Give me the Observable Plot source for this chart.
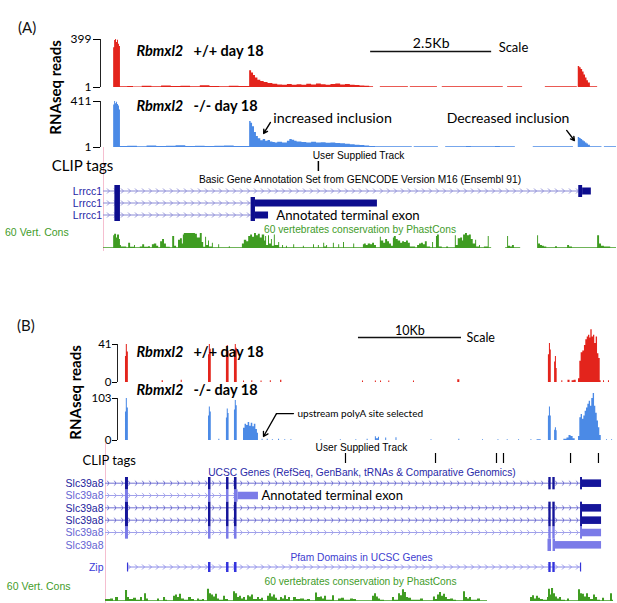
<!DOCTYPE html>
<html><head><meta charset="utf-8">
<script src="https://cdn.jsdelivr.net/npm/d3@7"></script>
<script src="https://cdn.jsdelivr.net/npm/@observablehq/plot@0.6"></script>
<style>
body{margin:0;background:#fff;}
#fig{position:relative;width:617px;height:603px;overflow:hidden;}
#fig svg{position:absolute;left:0;overflow:visible;}
.panel{position:absolute;font-family:Lato,'Open Sans',sans-serif;font-size:15px;color:#111;}
</style></head><body><div id="fig"><div class="panel" style="left:18px;top:18px">(A)</div><div class="panel" style="left:17px;top:316px">(B)</div></div>
<script>
// ---------------- DATA ----------------
// scale bars (kb)
const kbScaleA = [{start: 5.52, kb: 2.5}];
const kbScaleB = [{start: 24.56, kb: 10}];
// axis tick labels
const yTicksRedA = [1, 399], yTicksBlueA = [1, 411];
const yTicksRedB = [0, 41], yTicksBlueB = [0, 103];
// RNAseq coverage, panel A: [position kb, reads]
const covRedA = [[0.19,1],[0.21,330],[0.23,390],[0.25,399],[0.27,375],[0.29,392],[0.31,360],[0.33,340],[0.35,8],[0.5,10],[0.62,6],[0.8,12],[1.0,8],[1.2,14],[1.4,9],[1.6,12],[1.8,8],[2.0,15],[2.2,10],[2.4,7],[2.6,12],[2.8,9],[3.02,140],[3.06,122],[3.10,100],[3.14,80],[3.19,62],[3.25,50],[3.32,42],[3.4,34],[3.5,28],[3.6,22],[3.7,20],[3.8,25],[3.9,19],[4.0,23],[4.1,20],[4.2,27],[4.3,22],[4.4,29],[4.5,24],[4.6,20],[4.7,25],[4.8,31],[4.9,22],[5.0,26],[5.1,20],[5.2,17],[5.3,14],[5.4,11],[5.5,8],[5.58,1],[5.72,7],[6.30,1],[6.34,7],[6.90,1],[7.00,7],[8.26,1],[8.35,7],[8.66,1],[9.13,7],[9.79,1],[9.81,175],[9.84,165],[9.87,150],[9.90,130],[9.93,105],[9.96,80],[9.99,58],[10.02,38],[10.06,8],[10.21,1]];
const covBlueA = [[0.19,1],[0.21,380],[0.23,411],[0.25,392],[0.27,405],[0.29,385],[0.31,372],[0.33,335],[0.35,10],[0.5,12],[0.7,8],[0.9,14],[1.1,10],[1.3,12],[1.5,16],[1.7,10],[1.9,13],[2.1,9],[2.3,12],[2.5,14],[2.7,10],[2.9,11],[3.02,232],[3.05,218],[3.08,185],[3.12,135],[3.16,98],[3.20,80],[3.25,62],[3.30,72],[3.35,56],[3.40,64],[3.45,50],[3.50,45],[3.55,40],[3.60,48],[3.70,42],[3.80,56],[3.85,72],[3.90,66],[3.95,56],[4.0,50],[4.1,45],[4.2,42],[4.3,48],[4.4,40],[4.5,44],[4.6,38],[4.7,42],[4.8,36],[4.9,34],[5.0,30],[5.1,26],[5.2,22],[5.3,18],[5.4,14],[5.5,10],[5.62,7],[6.38,1],[6.42,7],[6.92,1],[7.07,7],[7.5,10],[7.6,7],[8.1,9],[8.2,7],[8.51,1],[8.88,7],[9.71,1],[9.81,90],[9.84,82],[9.87,72],[9.90,62],[9.93,52],[9.96,42],[9.99,32],[10.02,22],[10.06,7],[10.3,1],[10.35,7],[10.6,7]];
// RNAseq coverage, panel B
const covRedB = [[1.85,0],[1.94,28],[2.02,41],[2.12,33],[2.22,0],[5.50,2],[5.62,0],[7.35,2.5],[7.45,0],[9.95,0],[10.0,30],[10.08,41],[10.18,36],[10.27,0],[11.70,0],[11.74,30],[11.82,40],[11.92,34],[12.0,0],[12.48,0],[12.52,33],[12.60,41],[12.70,37],[12.79,0],[13.4,1.5],[13.5,0],[14.2,2],[14.3,0],[15.1,1.5],[15.2,0],[16.0,2],[16.1,0],[17.0,2.5],[17.12,0],[24.95,1.5],[25.05,0],[26.2,1.5],[26.3,0],[26.7,1.5],[26.8,0],[27.5,1.5],[27.6,0],[29.9,1.5],[30.0,0],[34.2,3],[34.4,0],[42.95,0],[43.0,30],[43.1,42],[43.2,35],[43.28,0],[43.55,0],[43.6,22],[43.68,28],[43.78,15],[43.85,0],[44.3,2],[44.4,0],[44.9,2.5],[45.1,0],[45.3,2],[45.5,2.5],[45.7,0],[45.92,4],[46.05,23],[46.18,32],[46.34,34],[46.5,40],[46.63,46],[46.77,49],[46.89,51],[47.02,48],[47.12,57],[47.25,49],[47.38,51],[47.5,42],[47.64,49],[47.77,31],[47.9,26],[48.03,2],[48.12,0],[48.35,2],[48.45,0],[48.83,2],[48.93,0]];
const covBlueB = [[1.85,0],[1.94,70],[2.02,103],[2.12,80],[2.22,0],[9.95,0],[10.0,60],[10.08,82],[10.18,70],[10.27,0],[11.0,3],[11.1,0],[11.70,0],[11.74,55],[11.82,77],[11.92,66],[12.0,0],[12.48,0],[12.52,75],[12.60,98],[12.70,85],[12.79,0],[13.40,30],[13.55,40],[13.70,37],[13.85,44],[14.0,35],[14.15,42],[14.30,34],[14.45,40],[14.60,27],[14.75,18],[14.85,0],[15.2,3],[15.3,0],[15.7,3],[15.8,0],[16.2,2],[16.3,0],[16.8,3],[16.9,0],[17.4,2],[17.5,0],[18.0,2],[18.1,0],[20.9,2],[21.0,0],[22.8,2],[22.9,0],[24.3,2],[24.4,0],[25.4,3],[25.5,0],[26.2,9],[26.3,4],[26.5,8],[26.6,0],[27.2,6],[27.3,0],[28.2,7],[28.3,0],[31.6,2],[31.7,0],[34.3,3],[34.4,0],[36.6,2],[36.7,0],[38.1,2],[38.2,0],[39.0,2],[39.1,0],[40.1,2],[40.2,0],[41.3,2],[41.4,0],[41.9,2],[42.2,2],[42.3,0],[42.95,0],[43.0,60],[43.1,82],[43.2,60],[43.28,0],[43.55,0],[43.6,25],[43.68,31],[43.78,24],[43.85,0],[44.5,3],[44.8,6],[45.0,12],[45.2,10],[45.4,4],[45.6,0],[45.92,10],[46.05,56],[46.18,64],[46.31,52],[46.44,60],[46.57,72],[46.70,80],[46.83,89],[46.96,96],[47.09,84],[47.21,103],[47.35,115],[47.48,84],[47.60,67],[47.74,48],[47.86,31],[47.99,12],[48.13,0],[48.64,2],[48.74,0],[49.13,2],[49.23,0]];
// CLIP tags (kb)
const clipTagsA = [4.44];
const clipTagsB = [23.3, 32.04, 37.96, 38.64, 45.15, 47.86];
// gene models, panel A: rows, intron spans [start,end,row], exons [start,end,row,kind c=thick u=thin]
const geneRowsA = ["Lrrcc1", "Lrrcc1", "Lrrcc1"];
const intronsA = [[0,9.82,1],[0,3.05,2],[0,3.05,3]];
const exonsA = [[0.235,0.35,1,"c"],[0.235,0.35,2,"c"],[0.235,0.35,3,"c"],[9.82,9.90,1,"c"],[9.90,10.08,1,"u"],[3.05,3.14,2,"c"],[3.14,5.66,2,"u"],[3.05,3.14,3,"c"],[3.14,3.41,3,"u"]];
// gene models, panel B
const geneRowsB = [["Slc39a8","dark"],["Slc39a8","light"],["Slc39a8","dark"],["Slc39a8","dark"],["Slc39a8","light"],["Slc39a8","light"]];
const intronsB = [[0,46.12,1],[0,12.62,2],[0,46.12,3],[0,46.12,4],[0,46.12,5]];
const exonsFullB = [[1.94,2.23,"c"],[10.0,10.24,"c"],[11.75,11.99,"c"],[12.52,12.77,"c"],[43.04,43.27,"c"],[43.43,43.66,"c"],[46.12,46.31,"c"],[46.31,48.16,"u"]];
const exonsShortB = [[1.94,2.23,"c"],[10.0,10.24,"c"],[11.75,11.99,"c"],[12.52,12.87,"c"],[12.87,14.85,"u"]];
const exonsTailB = [[42.96,43.30,"c"],[43.45,43.69,"c"],[43.69,48.16,"u"]];
const exonSetByRowB = [exonsFullB, exonsShortB, exonsFullB, exonsFullB, exonsFullB, exonsTailB];
// Pfam Zip domain
const zipEnds = [2.14, 46.12];
const zipExons = [[10.0,10.24],[11.75,11.99],[12.52,12.77],[43.04,43.27],[43.43,43.66]];
// 60 vertebrate conservation [kb, score 0..1]
const consA = [[0,0.05],[0.21,0.85],[0.23,0.95],[0.27,0.7],[0.29,0.9],[0.33,0.6],[0.35,0.2],[0.37,0.1],[0.48,0.05],[0.52,0.35],[0.56,0.08],[0.64,0.2],[0.66,0.05],[0.76,0.1],[0.81,0.25],[0.85,0.08],[0.93,0.12],[0.97,0.05],[1.01,0.25],[1.05,0.3],[1.10,0.15],[1.14,0.05],[1.18,0.45],[1.22,0.6],[1.26,0.3],[1.30,0.08],[1.38,0.05],[1.43,0.8],[1.47,0.15],[1.51,0.05],[1.55,0.55],[1.59,0.65],[1.63,0.3],[1.65,0.9],[1.67,1.0],[1.90,0.95],[1.94,0.7],[2.00,1.0],[2.04,0.4],[2.07,0.08],[2.11,0.75],[2.13,0.2],[2.17,0.5],[2.19,0.1],[2.25,0.35],[2.27,0.05],[2.38,0.25],[2.40,0.05],[2.60,0.12],[2.62,0.05],[2.87,0.3],[2.91,0.55],[2.96,0.45],[3.00,0.8],[3.04,0.9],[3.08,0.75],[3.12,1.0],[3.16,0.85],[3.20,0.95],[3.24,0.7],[3.28,0.9],[3.33,0.5],[3.35,0.8],[3.37,0.2],[3.41,0.85],[3.43,0.3],[3.47,0.6],[3.49,0.15],[3.53,0.9],[3.55,0.2],[3.62,0.4],[3.64,0.05],[3.70,0.2],[3.72,0.05],[3.78,0.15],[3.80,0.05],[3.93,0.25],[3.95,0.05],[4.13,0.15],[4.15,0.05],[4.34,0.25],[4.36,0.05],[4.44,0.2],[4.46,0.05],[4.55,0.35],[4.57,0.1],[4.61,0.2],[4.63,0.05],[4.75,0.35],[4.77,0.05],[4.86,0.25],[4.88,0.05],[4.96,0.4],[4.98,0.05],[5.17,0.3],[5.19,0.05],[5.37,0.25],[5.39,0.3],[5.43,0.2],[5.47,0.3],[5.52,0.25],[5.56,0.35],[5.60,0.2],[5.64,0.05],[5.72,0.75],[5.74,0.5],[5.79,0.35],[5.83,0.6],[5.87,0.45],[5.91,0.3],[5.95,0.15],[5.99,0.7],[6.01,0.8],[6.05,0.6],[6.09,0.5],[6.14,0.35],[6.18,0.45],[6.22,0.4],[6.26,0.5],[6.30,0.35],[6.34,0.1],[6.45,0.05],[6.49,0.2],[6.53,0.3],[6.57,0.35],[6.61,0.25],[6.65,0.45],[6.69,0.1],[6.76,0.05],[6.80,0.4],[6.82,0.05],[6.88,0.8],[6.90,0.9],[6.94,0.1],[7.00,0.05],[7.09,0.1],[7.13,0.05],[7.27,0.85],[7.29,0.2],[7.33,0.65],[7.38,0.7],[7.42,0.5],[7.44,0.9],[7.48,1.0],[7.52,0.85],[7.56,0.9],[7.60,0.6],[7.64,0.3],[7.69,0.55],[7.71,0.1],[7.77,0.2],[7.79,0.05],[7.87,0.1],[7.95,0.8],[7.97,0.05],[8.02,0],[8.31,0.05],[8.35,0.8],[8.37,0.15],[8.41,0.1],[8.45,0.2],[8.49,0.05],[8.62,0],[8.97,0.85],[8.99,0.3],[9.03,0.2],[9.07,0.15],[9.11,0.1],[9.16,0.05],[9.34,0.12],[9.38,0.05],[9.59,0.2],[9.63,0.1],[9.69,0.05],[10.21,0.85],[10.25,0.3],[10.29,0.15],[10.35,0.1],[10.48,0.05],[10.60,0.05]];
const consB = [[0,0.15],[0.49,0.2],[0.78,0.05],[0.97,0.3],[1.26,0.05],[1.94,0.85],[2.14,0.3],[2.33,0.15],[2.72,0.25],[3.01,0.1],[3.40,0.3],[3.59,0.05],[3.79,0.6],[3.98,0.2],[4.17,0.05],[5.05,0.2],[5.24,0.05],[5.63,0.3],[5.83,0.1],[6.02,0.05],[6.60,0.4],[6.80,0.5],[6.99,0.3],[7.18,0.55],[7.38,0.2],[7.67,0.1],[8.06,0.3],[8.35,0.15],[8.64,0.05],[8.93,0.2],[9.13,0.1],[9.42,0.15],[9.61,0.05],[9.90,0.95],[10.10,0.6],[10.29,0.5],[10.49,0.35],[10.68,0.55],[10.87,0.2],[11.07,0.1],[11.46,0.4],[11.65,0.15],[11.94,0.05],[12.43,0.75],[12.62,0.6],[12.82,0.3],[13.01,0.4],[13.20,0.2],[13.40,0.3],[13.59,0.1],[13.79,0.45],[13.98,0.35],[14.17,0.5],[14.37,0.15],[14.76,0.3],[14.95,0.15],[15.15,0.25],[15.34,0.05],[15.73,0.4],[15.92,0.6],[16.12,0.35],[16.31,0.5],[16.50,0.25],[16.70,0.1],[16.99,0.3],[17.18,0.2],[17.38,0.45],[17.57,0.15],[17.77,0.3],[17.96,0.05],[18.25,0.3],[18.54,0.15],[18.93,0.2],[19.32,0.1],[19.61,0.15],[19.90,0.05],[20.39,0.65],[20.58,0.3],[20.87,0.35],[21.07,0.2],[21.26,0.4],[21.46,0.1],[22.04,0.45],[22.23,0.05],[22.62,0.2],[22.91,0.25],[23.20,0.1],[23.79,0.2],[24.08,0.15],[24.37,0.05],[25.92,0.4],[26.12,0.6],[26.31,0.35],[26.50,0.2],[26.70,0.1],[27.09,0.05],[27.86,0.3],[28.06,0.1],[28.45,0.6],[28.64,0.45],[28.83,0.9],[29.03,0.7],[29.22,0.3],[29.42,0.25],[29.71,0.1],[30.58,0.2],[30.87,0.05],[31.84,0.35],[32.04,0.15],[32.23,0.5],[32.43,0.7],[32.62,0.4],[32.82,0.55],[33.01,0.3],[33.20,0.15],[33.50,0.2],[33.79,0.1],[34.08,0.05],[34.76,0.75],[34.95,0.3],[35.15,0.2],[35.34,0.3],[35.53,0.1],[36.12,0.2],[36.41,0.05],[37.09,0],[41.26,0.3],[41.46,0.45],[41.65,0.2],[41.84,0.4],[42.04,0.25],[42.23,0.15],[42.52,0.1],[42.91,0.3],[43.01,0.95],[43.20,0.5],[43.30,1.0],[43.50,0.6],[43.69,0.35],[43.88,0.2],[44.08,0.3],[44.27,0.1],[44.66,0.05],[44.85,0.2],[45.05,0.05],[45.92,0.9],[46.12,0.6],[46.31,0.55],[46.50,0.35],[46.70,0.6],[46.89,0.3],[47.09,0.15],[47.38,0.5],[47.57,0.3],[47.77,0.1],[48.06,0.05],[48.25,0.25],[48.45,0.05],[49.03,0.6],[49.22,0.1],[49.32,0.1]];

// ---------------- STYLE ----------------
const RED = "#e3241c", BLUE = "#4b8ae6", GREEN = "#3f9c22", GREENTXT = "#3f9c2a";
const NAVY = "#0d0d8e", DARKB = "#15159a", LIGHTB = "#7b7be8", PINK = "#f5bfd0";
const MY = "Lato, 'Open Sans', sans-serif", UC = "'Liberation Sans', Arial, sans-serif";
const UCS = 10.2;
const fig = document.getElementById("fig");
const frameA = {marginLeft: 103, marginRight: 1}, xA = {domain: [0, 10.6], axis: null};
const frameB = {marginLeft: 105, marginRight: 4}, xB = {domain: [0, 49.32], axis: null};
const geneYA = {domain: [0.5, 3.5], range: [3, 39], axis: null};
const geneYB = {domain: [0.5, 6.5], range: [2, 76], axis: null};
const zipY = {domain: [0.5, 1.5], range: [11, 21], axis: null};
const X = d => d[0], V = d => d[1];

// chevron (intron direction) patterns
const defs = d3.select(fig).append("svg").attr("width", 0).attr("height", 0).append("defs");
function chev(id, color, y, nrows) {
  const h = (y.range[1] - y.range[0]) / nrows, c = h / 2;
  const p = defs.append("pattern").attr("id", id).attr("patternUnits", "userSpaceOnUse")
    .attr("x", 0).attr("y", y.range[0]).attr("width", 7).attr("height", h);
  p.append("path").attr("d", `M0,${c}H7`).attr("stroke", color).attr("stroke-width", 1);
  p.append("path").attr("d", `M2,${c - 2.5}L4.5,${c}L2,${c + 2.5}`).attr("stroke", color).attr("stroke-width", 0.9).attr("fill", "none");
}
chev("chevA", "#8a8ad6", geneYA, 3);
chev("chevBd", "#6a6ad0", geneYB, 6);
chev("chevBl", "#a0a0ea", geneYB, 6);
chev("chevZ", "#8c8ce8", zipY, 1);

function P(top, opts) {
  const svg = Plot.plot({width: 617, marginTop: 0, marginBottom: 0, ...opts});
  svg.style.top = top + "px";
  fig.appendChild(svg);
  return svg;
}
const bold = {fontFamily: MY, fontSize: 14.5, fontWeight: "bold", textAnchor: "start"};
const T = s => [s];
const id = d => d;

// ================= PANEL A =================
P(30, {...frameA, height: 30, x: xA, y: {domain: [0, 1], range: [21, 11], axis: null}, marks: [
  Plot.ruleY(kbScaleA, {y: 0, x1: d => d.start, x2: d => d.start + d.kb, stroke: "#111", strokeWidth: 1.3}),
  Plot.text(kbScaleA, {x: d => d.start + d.kb / 2, y: 0.8, text: d => d.kb + "Kb", fontFamily: MY, fontSize: 14}),
  Plot.text(kbScaleA, {x: d => d.start + d.kb, y: 0.4, text: () => "Scale", dx: 7, textAnchor: "start", fontFamily: MY, fontSize: 13})
]});
P(0, {...frameA, height: 92, x: xA, y: {domain: [1, 399], range: [87, 39], axis: null}, marks: [
  Plot.areaY(covRedA, {x: X, y1: 1, y2: V, curve: "step-after", fill: RED}),
  Plot.ruleX([0], {y1: 1, y2: 399, dx: -3, stroke: "#222"}),
  Plot.axisY(yTicksRedA, {anchor: "left", tickSize: 7, tickPadding: 2, dx: -3, fontSize: 12, fontFamily: MY, label: null}),
  Plot.text(T("Rbmxl2"), {x: 0.68, y: 300, text: id, ...bold, fontStyle: "italic"}),
  Plot.text(T("+/+ day 18"), {x: 1.86, y: 300, text: id, ...bold}),
  Plot.text(T("RNAseq reads"), {x: -0.97, y: 1, text: id, rotate: -90, fontFamily: MY, fontSize: 15, fontWeight: "bold"})
]});
P(92, {...frameA, height: 58, x: xA, y: {domain: [1, 411], range: [55, 9], axis: null}, marks: [
  Plot.areaY(covBlueA, {x: X, y1: 1, y2: V, curve: "step-after", fill: BLUE}),
  Plot.ruleX([0], {y1: 1, y2: 411, dx: -3, stroke: "#222"}),
  Plot.axisY(yTicksBlueA, {anchor: "left", tickSize: 7, tickPadding: 2, dx: -3, fontSize: 12, fontFamily: MY, label: null}),
  Plot.text(T("Rbmxl2"), {x: 0.68, y: 366, text: id, ...bold, fontStyle: "italic"}),
  Plot.text(T("-/- day 18"), {x: 1.86, y: 366, text: id, ...bold}),
  Plot.text(T("increased inclusion"), {x: 3.51, y: 259, text: id, textAnchor: "start", fontFamily: MY, fontSize: 14.3}),
  Plot.arrow(T(0), {x1: 3.45, y1: 224, x2: 3.31, y2: 126, headLength: 6, strokeWidth: 1.4, stroke: "#000"}),
  Plot.text(T("Decreased inclusion"), {x: 7.09, y: 259, text: id, textAnchor: "start", fontFamily: MY, fontSize: 14}),
  Plot.arrow(T(0), {x1: 9.57, y1: 153, x2: 9.73, y2: 63, headLength: 6, strokeWidth: 1.4, stroke: "#000"})
]});
P(147, {...frameA, height: 35, x: xA, y: {domain: [0, 1], range: [24, 14], axis: null}, marks: [
  Plot.ruleX([0], {stroke: PINK}),
  Plot.text(T("User Supplied Track"), {x: 5.27, y: 1.6, text: id, fontFamily: UC, fontSize: UCS}),
  Plot.ruleX(clipTagsA, {y1: 0, y2: 1, stroke: "#000", strokeWidth: 1.5}),
  Plot.text(T("CLIP tags"), {x: -1.07, y: 0.5, text: id, textAnchor: "start", fontFamily: MY, fontSize: 15}),
  Plot.text(T("Basic Gene Annotation Set from GENCODE Version M16 (Ensembl 91)"), {x: 5.30, y: -0.8, text: id, fontFamily: UC, fontSize: UCS})
]});
const rowsA = geneRowsA.map((name, i) => ({row: i + 1, name}));
const exA = () => ({x1: e => e[0], x2: e => e[1], y1: e => e[2] - 0.5, y2: e => e[2] + 0.5});
P(182, {...frameA, height: 43, x: xA, y: geneYA, marks: [
  Plot.ruleX([0], {stroke: PINK}),
  Plot.rect(intronsA, {...exA(), fill: "url(#chevA)"}),
  Plot.rect(exonsA.filter(e => e[3] === "c"), {...exA(), fill: NAVY}),
  Plot.rect(exonsA.filter(e => e[3] === "u"), {...exA(), fill: NAVY, insetTop: 2.5, insetBottom: 2.5}),
  Plot.text(rowsA, {x: 0, y: "row", text: "name", textAnchor: "end", dx: -1.5, fill: "#2626a6", fontFamily: UC, fontSize: 10.5}),
  Plot.text(T("Annotated terminal exon"), {x: 3.57, y: 3, text: id, textAnchor: "start", fontFamily: MY, fontSize: 13.2})
]});
P(225, {...frameA, height: 26, x: xA, y: {domain: [0, 1], range: [23, 8], axis: null}, marks: [
  Plot.ruleX([0], {stroke: PINK}),
  Plot.areaY(consA, {x: X, y1: 0, y2: V, curve: "step-after", fill: GREEN}),
  Plot.text(T("60 vertebrates conservation by PhastCons"), {x: 5.30, y: 1.27, text: id, fill: GREENTXT, fontFamily: UC, fontSize: UCS}),
  Plot.text(T("60 Vert. Cons"), {x: -0.72, y: 1.07, text: id, textAnchor: "end", fill: GREENTXT, fontFamily: UC, fontSize: 10.5})
]});

// ================= PANEL B =================
P(320, {...frameB, height: 25, x: xB, y: {domain: [0, 1], range: [17, 7], axis: null}, marks: [
  Plot.ruleY(kbScaleB, {y: 0, x1: d => d.start, x2: d => d.start + d.kb, stroke: "#111", strokeWidth: 1.3}),
  Plot.text(kbScaleB, {x: d => d.start + d.kb / 2, y: 0.7, text: d => d.kb + "Kb", fontFamily: MY, fontSize: 12.5}),
  Plot.text(kbScaleB, {x: d => d.start + d.kb, y: 0, text: () => "Scale", dx: 5, textAnchor: "start", fontFamily: MY, fontSize: 12.5})
]});
P(300, {...frameB, height: 92, x: xB, y: {domain: [0, 41], range: [82, 44], axis: null}, marks: [
  Plot.areaY(covRedB, {x: X, y1: 0, y2: V, curve: "step-after", fill: RED}),
  Plot.ruleX([0], {y1: 0, y2: 41, dx: 12, stroke: "#222"}),
  Plot.axisY(yTicksRedB, {anchor: "left", tickSize: 5, tickPadding: 1, dx: 12, fontSize: 11.5, fontFamily: MY, label: null}),
  Plot.text(T("Rbmxl2"), {x: 3.01, y: 32.4, text: id, ...bold, fontStyle: "italic"}),
  Plot.text(T("+/+ day 18"), {x: 8.54, y: 32.4, text: id, ...bold})
]});
P(392, {...frameB, height: 52, x: xB, y: {domain: [0, 103], range: [48, 6], axis: null}, marks: [
  Plot.areaY(covBlueB, {x: X, y1: 0, y2: V, curve: "step-after", fill: BLUE}),
  Plot.ruleX([0], {y1: 0, y2: 103, dx: 12, stroke: "#222"}),
  Plot.axisY(yTicksBlueB, {anchor: "left", tickSize: 5, tickPadding: 1, dx: 12, fontSize: 11.5, fontFamily: MY, label: null}),
  Plot.text(T("Rbmxl2"), {x: 3.01, y: 122.6, text: id, ...bold, fontStyle: "italic"}),
  Plot.text(T("-/- day 18"), {x: 8.54, y: 122.6, text: id, ...bold}),
  Plot.text(T("RNAseq reads"), {x: -2.82, y: 117.7, text: id, rotate: -90, fontFamily: MY, fontSize: 15, fontWeight: "bold"}),
  Plot.text(T("upstream polyA site selected"), {x: 18.64, y: 66, text: id, textAnchor: "start", fontFamily: MY, fontSize: 10}),
  Plot.line([[18.25, 66], [16.6, 66]], {x: X, y: V, stroke: "#000", strokeWidth: 1.3}),
  Plot.arrow(T(0), {x1: 16.6, y1: 66, x2: 15.34, y2: 9.8, headLength: 6, strokeWidth: 1.3, stroke: "#000"})
]});
P(443, {...frameB, height: 32, x: xB, y: {domain: [0, 1], range: [20, 10], axis: null}, marks: [
  Plot.ruleX([0], {stroke: PINK}),
  Plot.text(T("User Supplied Track"), {x: 24.85, y: 1.6, text: id, fontFamily: UC, fontSize: UCS}),
  Plot.ruleX(clipTagsB, {y1: 0, y2: 1, stroke: "#000", strokeWidth: 1.2}),
  Plot.text(T("CLIP tags"), {x: -2.23, y: 0.3, text: id, textAnchor: "start", fontFamily: MY, fontSize: 13}),
  Plot.text(T("UCSC Genes (RefSeq, GenBank, tRNAs & Comparative Genomics)"), {x: 24.9, y: -0.9, text: id, fill: "#2a2aa8", fontFamily: UC, fontSize: UCS})
]});
const rowsB = geneRowsB.map(([name, tone], i) => ({row: i + 1, name, tone}));
const toneOf = r => rowsB[r - 1].tone;
const exonsB = exonSetByRowB.flatMap((set, i) => set.map(e => [e[0], e[1], i + 1, e[2]]));
const geneMarksB = tone => [
  Plot.rect(intronsB.filter(d => toneOf(d[2]) === tone), {...exA(), fill: tone === "dark" ? "url(#chevBd)" : "url(#chevBl)"}),
  Plot.rect(exonsB.filter(e => toneOf(e[2]) === tone && e[3] === "c"), {...exA(), fill: tone === "dark" ? DARKB : LIGHTB}),
  Plot.rect(exonsB.filter(e => toneOf(e[2]) === tone && e[3] === "u"), {...exA(), fill: tone === "dark" ? DARKB : LIGHTB, insetTop: 2.4, insetBottom: 2.4}),
  Plot.text(rowsB.filter(r => r.tone === tone), {x: 0, y: "row", text: "name", textAnchor: "end", dx: -2, fill: tone === "dark" ? "#22229c" : "#6464d2", fontFamily: UC, fontSize: 10.5})
];
P(475, {...frameB, height: 76, x: xB, y: geneYB, marks: [
  Plot.ruleX([0], {stroke: PINK}),
  ...geneMarksB("light"),
  ...geneMarksB("dark"),
  Plot.text(T("Annotated terminal exon"), {x: 15.15, y: 2, text: id, textAnchor: "start", fontFamily: MY, fontSize: 13})
]});
P(551, {...frameB, height: 24, x: xB, y: zipY, marks: [
  Plot.ruleX([0], {stroke: PINK}),
  Plot.rect([zipEnds], {x1: d => d[0], x2: d => d[1], y1: 0.5, y2: 1.5, fill: "url(#chevZ)"}),
  Plot.ruleX(zipEnds, {y1: 0.55, y2: 1.45, stroke: "#3535d8", strokeWidth: 1.2}),
  Plot.rect(zipExons, {x1: X, x2: V, y1: 0.5, y2: 1.5, fill: "#3333dd"}),
  Plot.text(T("Zip"), {x: 0, y: 1, text: id, textAnchor: "end", dx: -2, fill: "#3b3bd8", fontFamily: UC, fontSize: 10.5}),
  Plot.text(T("Pfam Domains in UCSC Genes"), {x: 24.85, y: 0, text: id, fill: "#4040d0", fontFamily: UC, fontSize: UCS})
]});
P(575, {...frameB, height: 28, x: xB, y: {domain: [0, 1], range: [26, 13], axis: null}, marks: [
  Plot.ruleX([0], {stroke: PINK}),
  Plot.areaY(consB, {x: X, y1: 0, y2: V, curve: "step-after", fill: GREEN}),
  Plot.text(T("60 vertebrates conservation by PhastCons"), {x: 24.76, y: 1.54, text: id, fill: GREENTXT, fontFamily: UC, fontSize: UCS}),
  Plot.text(T("60 Vert. Cons"), {x: -3.40, y: 1.15, text: id, textAnchor: "end", fill: GREENTXT, fontFamily: UC, fontSize: 10.5})
]});
</script></body></html>
